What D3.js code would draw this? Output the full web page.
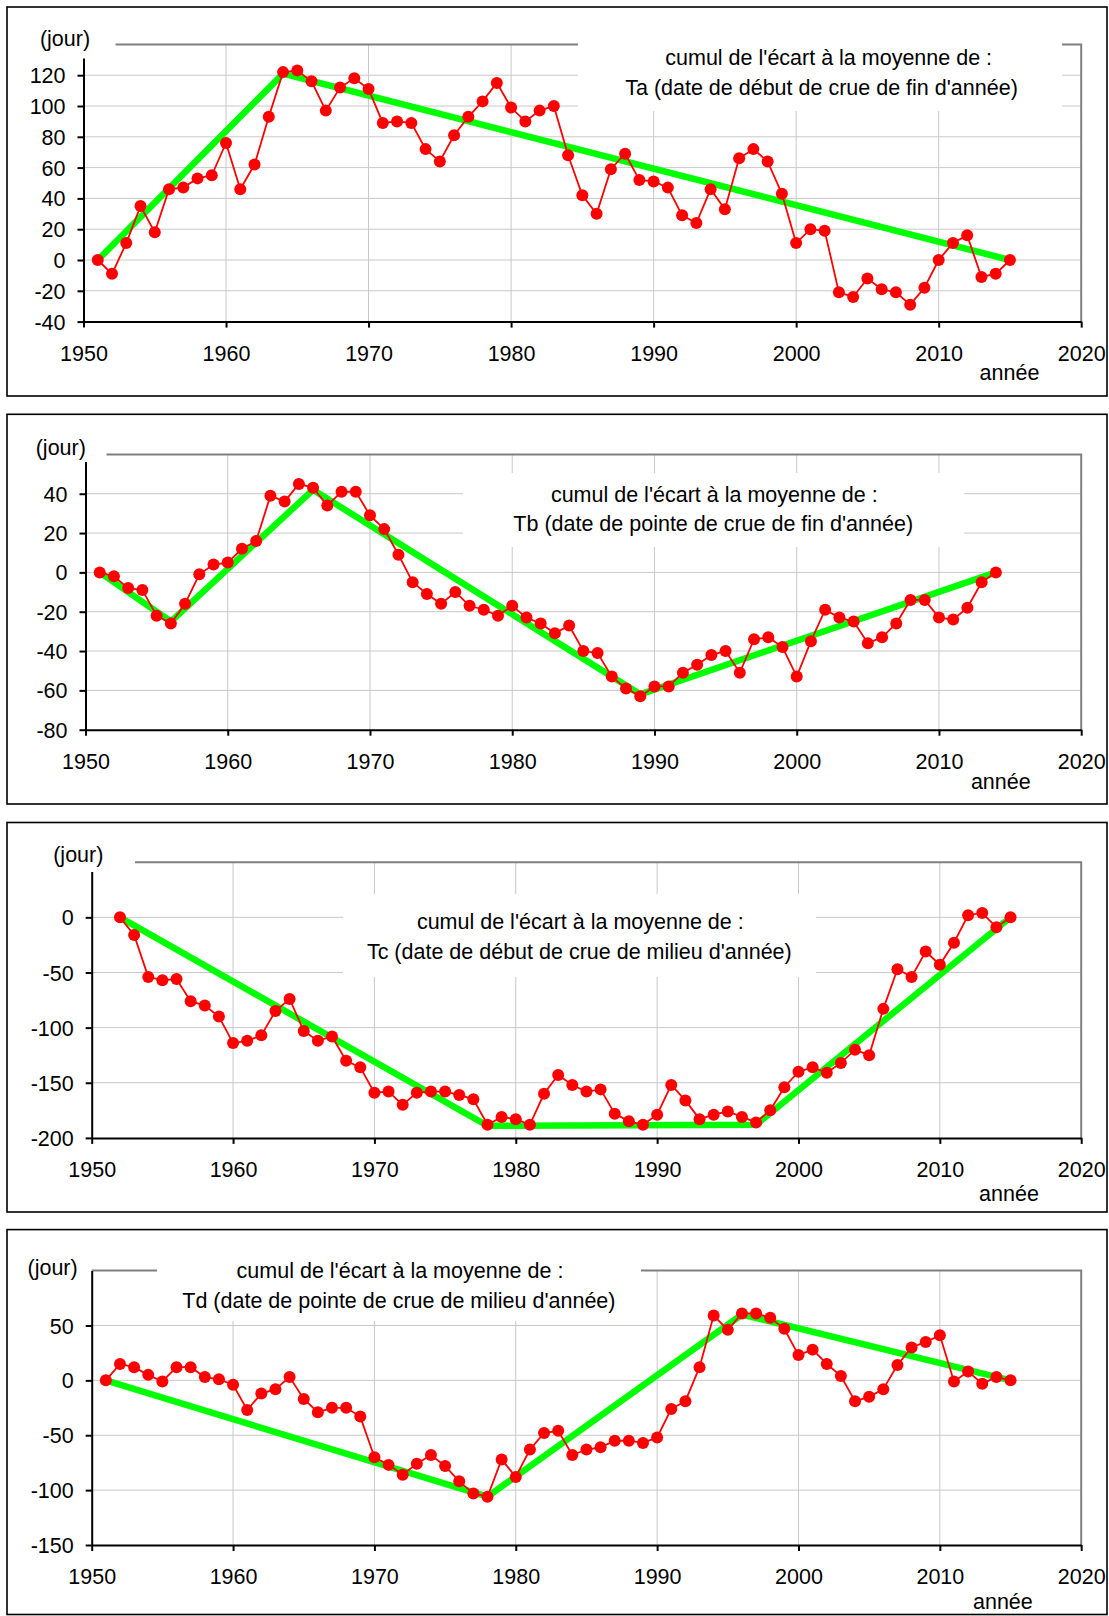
<!DOCTYPE html>
<html>
<head>
<meta charset="utf-8">
<script src="https://cdnjs.cloudflare.com/ajax/libs/d3/7.8.5/d3.min.js"></script>
<style>
  html, body { margin: 0; padding: 0; background: #fff; }
  svg { display: block; font-family: "Liberation Sans", Arial, sans-serif; }
</style>
</head>
<body>
<svg id="chart" width="1109" height="1616"></svg>
<script>
// ---- shared axis values ----
const yearTicks = [1950, 1960, 1970, 1980, 1990, 2000, 2010, 2020];
const yUnitLabel = "(jour)";
const xUnitLabel = "année";
const titleLead = "cumul de l'écart à la moyenne de :";

// ---- Ta : date de début de crue de fin d'année ----
const taFirstYear = 1951;
const taValues = [0, -9, 11, 35, 18, 46, 47, 53, 55, 76,
                  46, 62, 93, 122, 123, 116, 97, 112, 118, 111,
                  89, 90, 89, 72, 64, 81, 93, 103, 115, 99,
                  90, 97, 100, 68, 42, 30, 59, 69, 52, 51,
                  47, 29, 24, 46, 33, 66, 72, 64, 43, 11,
                  20, 19, -21, -24, -12, -19, -21, -29, -18, 0,
                  11, 16, -11, -9, 0];
const taTrend = [[1951, 0], [1964, 121], [2015, 0]];
const taTicks = [-40, -20, 0, 20, 40, 60, 80, 100, 120];
const taDomain = [-40, 140];
const taName = "Ta (date de début de crue de fin d'année)";

// ---- Tb : date de pointe de crue de fin d'année ----
const tbFirstYear = 1951;
const tbValues = [0, -2, -8, -9, -22, -26, -16, -1, 4, 5,
                  12, 16, 39, 36, 45, 43, 34, 41, 41, 29,
                  22, 9, -5, -11, -16, -10, -17, -19, -22, -17,
                  -23, -26, -31, -27, -40, -41, -53, -59, -63, -58,
                  -58, -51, -47, -42, -40, -51, -34, -33, -38, -53,
                  -35, -19, -23, -25, -36, -33, -26, -14, -14, -23,
                  -24, -18, -5, 0];
const tbTrend = [[1951, 0], [1956, -25], [1966, 42], [1989, -62], [2014, 0]];
const tbTicks = [-80, -60, -40, -20, 0, 20, 40];
const tbDomain = [-80, 60];
const tbName = "Tb (date de pointe de crue de fin d'année)";

// ---- Tc : date de début de crue de milieu d'année ----
const tcFirstYear = 1952;
const tcValues = [0, -16, -54, -57, -56, -76, -80, -90, -114,
                  -112, -107, -85, -74, -103, -112, -108, -130, -136, -159,
                  -158, -170, -159, -158, -158, -161, -165, -188, -181, -183,
                  -188, -160, -143, -152, -158, -156, -178, -185, -188, -179,
                  -152, -166, -183, -179, -176, -181, -186, -175, -154, -140,
                  -136, -141, -132, -120, -125, -83, -47, -54, -31, -43,
                  -23, 2, 4, -9, 0];
const tcTrend = [[1952, 0], [1978, -189], [1997, -188], [2015, 0]];
const tcTicks = [-200, -150, -100, -50, 0];
const tcDomain = [-200, 50];
const tcName = "Tc (date de début de crue de milieu d'année)";

// ---- Td : date de pointe de crue de milieu d'année ----
const tdFirstYear = 1951;
const tdValues = [0, 15, 12, 5, -1, 12, 12, 3, 1, -4,
                  -27, -12, -8, 3, -17, -29, -25, -25, -33, -70,
                  -77, -86, -76, -68, -78, -92, -103, -106, -72, -88,
                  -63, -48, -46, -68, -63, -61, -55, -55, -57, -52,
                  -26, -19, 12, 59, 46, 61, 61, 57, 47, 23,
                  28, 15, 4, -19, -15, -8, 14, 30, 35, 41,
                  -1, 8, -3, 3, 0];
const tdTrend = [[1951, 0], [1978, -106], [1996, 60], [2015, 0]];
const tdTicks = [-150, -100, -50, 0, 50];
const tdDomain = [-150, 100];
const tdName = "Td (date de pointe de crue de milieu d'année)";

// ---- panel layout ----
const panels = [
  { first: taFirstYear, values: taValues, trend: taTrend, ticks: taTicks, domain: taDomain, name: taName,
    frame: [7, 7, 1107, 396], plot: { left: 83.5, right: 1081.2, top: 44.4, bottom: 321.6 },
    unitPos: [65, 38], unitBox: [26, 16, 115.5, 58.5],
    titlePos: [[828.7, 57.7], [821.5, 87.6]], titleBox: [578, 26, 1062, 111],
    xLabelPos: [1009.5, 372] },
  { first: tbFirstYear, values: tbValues, trend: tbTrend, ticks: tbTicks, domain: tbDomain, name: tbName,
    frame: [7, 414.3, 1107, 804], plot: { left: 85.5, right: 1081.2, top: 454.4, bottom: 729.7 },
    unitPos: [60.8, 447.5], unitBox: [20, 425, 106.5, 462],
    titlePos: [[714.3, 494], [713.2, 523.5]], titleBox: [463, 473, 964, 547],
    xLabelPos: [1000.8, 781.5] },
  { first: tcFirstYear, values: tcValues, trend: tcTrend, ticks: tcTicks, domain: tcDomain, name: tcName,
    frame: [7, 822.5, 1107, 1212], plot: { left: 91.7, right: 1081.2, top: 862.2, bottom: 1137.9 },
    unitPos: [78.3, 854.5], unitBox: [36, 832, 135, 872],
    titlePos: [[580.3, 921.5], [579.3, 951.5]], titleBox: [343, 894, 816, 977],
    xLabelPos: [1009, 1193.3] },
  { first: tdFirstYear, values: tdValues, trend: tdTrend, ticks: tdTicks, domain: tdDomain, name: tdName,
    frame: [7, 1229.6, 1107, 1614.5], plot: { left: 91.7, right: 1081.2, top: 1270.6, bottom: 1545 },
    unitPos: [52.6, 1267], unitBox: [10, 1246, 90.7, 1290],
    titlePos: [[400, 1270], [398.9, 1300]], titleBox: [157, 1240, 641, 1321],
    xLabelPos: [1002.9, 1601] }
];

const svg = d3.select("#chart");
const FONT = 21.5;
const RED = "#ff0000";
const GREEN = "#00ff00";
// plain hyphen-minus for negative tick labels
const plainNumber = d => String(d);

function rectFromBox(g, b, attrs) {
  const r = g.append("rect")
    .attr("x", b[0]).attr("y", b[1])
    .attr("width", b[2] - b[0]).attr("height", b[3] - b[1]);
  Object.entries(attrs).forEach(([k, v]) => r.attr(k, v));
  return r;
}

panels.forEach(p => {
  const g = svg.append("g");
  const years = d3.range(p.first, p.first + p.values.length);
  const series = years.map((yr, i) => ({ year: yr, value: p.values[i] }));

  const x = d3.scaleLinear().domain([yearTicks[0], yearTicks[yearTicks.length - 1]])
    .range([p.plot.left, p.plot.right]);
  const y = d3.scaleLinear().domain(p.domain).range([p.plot.bottom, p.plot.top]);

  // outer frame
  rectFromBox(g, p.frame, { fill: "#fff", stroke: "#000", "stroke-width": 1.6 });

  // gridlines
  g.append("g").selectAll("line").data(p.ticks.filter(t => t !== p.domain[0])).join("line")
    .attr("x1", x.range()[0]).attr("x2", x.range()[1])
    .attr("y1", d => y(d)).attr("y2", d => y(d))
    .attr("stroke", "#c8c8c8").attr("stroke-width", 1);
  g.append("g").selectAll("line").data(yearTicks.slice(1, -1)).join("line")
    .attr("x1", d => x(d)).attr("x2", d => x(d))
    .attr("y1", y.range()[1]).attr("y2", y.range()[0])
    .attr("stroke", "#c8c8c8").attr("stroke-width", 1);

  // plot-area border (top and right), grey
  g.append("path")
    .attr("d", `M${x.range()[0]},${y.range()[1]}H${x.range()[1]}V${y.range()[0]}`)
    .attr("fill", "none").attr("stroke", "#808080").attr("stroke-width", 2);

  // axes
  const yAxis = d3.axisLeft(y).tickValues(p.ticks).tickSize(6).tickSizeOuter(0).tickPadding(12)
    .tickFormat(plainNumber);
  const xAxis = d3.axisBottom(x).tickValues(yearTicks).tickSize(6).tickSizeOuter(0).tickPadding(18)
    .tickFormat(plainNumber);
  const ya = g.append("g").attr("transform", `translate(${x.range()[0]},0)`).call(yAxis);
  const xa = g.append("g").attr("transform", `translate(0,${y.range()[0]})`).call(xAxis);
  [ya, xa].forEach(a => {
    a.select(".domain").attr("stroke", "#000").attr("stroke-width", 2);
    a.selectAll(".tick line").attr("stroke", "#000").attr("stroke-width", 2);
    a.selectAll(".tick text").attr("fill", "#000")
      .style("font-family", "'Liberation Sans', Arial, sans-serif").style("font-size", FONT + "px");
  });
  ya.selectAll(".tick text").attr("dy", "0.35em");

  // trend line
  g.append("path")
    .datum(p.trend)
    .attr("d", d3.line().x(d => x(d[0])).y(d => y(d[1])))
    .attr("fill", "none").attr("stroke", GREEN).attr("stroke-width", 6.5)
    .attr("stroke-linejoin", "miter");

  // cumulative series
  g.append("path")
    .datum(series)
    .attr("d", d3.line().x(d => x(d.year)).y(d => y(d.value)))
    .attr("fill", "none").attr("stroke", RED).attr("stroke-width", 1.8);
  g.append("g").selectAll("circle").data(series).join("circle")
    .attr("cx", d => x(d.year)).attr("cy", d => y(d.value)).attr("r", 6)
    .attr("fill", RED);

  // text boxes (white background)
  rectFromBox(g, p.unitBox, { fill: "#fff" });
  rectFromBox(g, p.titleBox, { fill: "#fff" });

  const txt = (pos, s) => g.append("text")
    .attr("x", pos[0]).attr("y", pos[1]).attr("dy", "0.35em")
    .attr("text-anchor", "middle")
    .attr("font-size", FONT).attr("fill", "#000").text(s);

  txt(p.unitPos, yUnitLabel);
  txt(p.titlePos[0], titleLead);
  txt(p.titlePos[1], p.name);
  txt(p.xLabelPos, xUnitLabel);
});
</script>
</body>
</html>
